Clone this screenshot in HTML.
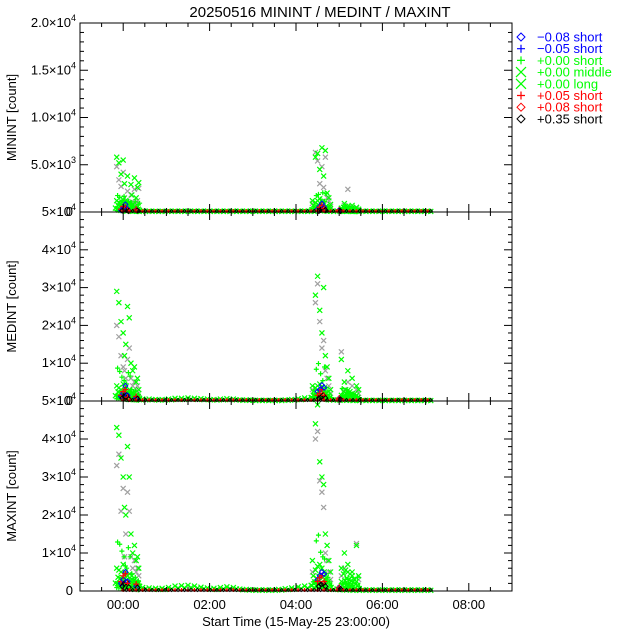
<!DOCTYPE html>
<html><head><meta charset="utf-8"><style>
body{margin:0;background:#fff}
svg{display:block;font-family:"Liberation Sans",sans-serif}
</style></head><body>
<svg id="c" width="640" height="640"></svg>
<script>
// ---- data ----
const panelNames=["MININT","MEDINT","MAXINT"];
const yMax=[20000,50000,50000];
const xTickLabels=["00:00","02:00","04:00","06:00","08:00"];
const xTickHours=[0,2,4,6,8];
const baseT=[0,0.15,0.3,0.45,0.6,0.75,0.9,1.05,1.2,1.35,1.5,1.65,1.8,1.95,2.1,2.25,2.4,2.55,2.7,2.85,3.0,3.15,3.3,3.45,3.6,3.75,3.9,4.05,4.2,4.35,4.5,4.65,4.8,4.95,5.1,5.25,5.4,5.55,5.7,5.85,6.0,6.15,6.3,6.45,6.6,6.75,6.9,7.05];
const baseMin=[150,120,100,100,100,90,90,100,100,100,100,100,100,100,100,100,100,100,100,100,100,100,100,100,100,100,100,100,100,100,200,150,100,120,100,100,100,100,100,100,100,100,100,100,100,100,100,100];
const baseMed=[900,700,600,500,500,400,400,500,700,700,800,700,600,500,400,500,600,500,300,300,200,200,200,200,200,300,400,600,800,900,1200,900,400,300,300,200,200,200,200,200,200,200,200,200,200,200,200,200];
const baseMax=[1500,1300,1100,900,800,700,700,900,1300,1400,1500,1300,1000,800,700,900,1100,900,500,400,300,300,300,300,400,600,800,1100,1300,1500,2000,1500,700,500,400,300,300,300,300,300,300,300,300,300,300,300,300,300];
// burst points: time (h) and values per panel
const burstT=[-0.15,-0.1,-0.05,0.0,0.03,0.06,0.1,0.14,0.18,0.22,0.26,0.3,0.33,0.36,0.2,4.38,4.45,4.5,4.55,4.6,4.64,4.68,4.72,4.76,4.8,5.05,5.12,5.2,5.3,5.4,5.45];
const grnMin=[5800,5200,4000,5500,3000,1200,3800,1000,2900,800,3600,1500,2600,3100,1800,1200,5800,6200,4500,6800,3800,6500,2000,1500,800,400,900,600,700,500,300];
const gryMin=[4800,3400,2700,4200,1500,900,2200,700,1800,600,2400,900,1200,2500,1100,900,6300,5400,3000,4800,2600,5800,1500,1200,600,300,700,2400,500,400,200];
const grnMed=[29000,26000,21000,18000,12000,15000,25000,22000,10000,8000,9000,5000,6000,3000,2000,4000,28000,33000,24000,18000,30000,12000,9000,6000,3000,11000,5000,8000,6000,4000,3000];
const gryMed=[20000,17000,12000,9000,8000,6000,11000,14000,6000,4000,5000,3000,4000,2000,1500,3000,26000,31000,21000,14000,16000,8000,6000,4000,2000,13000,3000,5000,4000,3000,2000];
const grnMax=[43000,41000,35000,30000,22000,20000,38000,30000,15000,10000,12000,8000,9000,6000,4000,8000,44000,49000,34000,30000,28000,15000,12000,8000,5000,6000,10000,7000,5000,12000,4000];
const gryMax=[33000,36000,21000,27000,9000,15000,26000,21000,9000,6000,8000,5000,6000,4000,3000,5000,40000,42000,29000,26000,22000,10000,8000,5000,3000,4000,6000,5000,4000,12500,3000];
const cloudT=[-0.15,-0.1,-0.05,0,0.05,0.1,0.15,0.2,0.25,0.3,0.35,4.4,4.45,4.5,4.55,4.6,4.65,4.7,4.75,5.05,5.1,5.15,5.2,5.25,5.3,5.35,5.4];
const cloudMin=[1200,1000,900,1300,800,700,900,600,500,400,300,700,1000,1200,1400,1100,900,600,400,300,500,600,400,300,400,300,200];
const cloudMed=[4000,3500,3000,4500,3000,2500,3000,2000,1800,1500,1200,2500,3500,4000,4500,3800,3000,2000,1500,1500,2500,3000,2800,2500,2000,1800,1500];
const cloudMax=[6000,5500,5000,7000,5000,4000,4500,3000,2800,2500,2000,4000,5500,6500,7000,6000,5000,3500,2500,2500,4500,5500,5000,4500,4000,3000,2500];
const redT=[-0.05,0.0,0.05,0.1,0.3,4.5,4.55,4.6,4.65,5.0];
const redMin=[300,600,500,200,300,200,500,700,400,200];
const redMed=[1500,2500,3000,1000,1200,1500,2000,3000,1500,800];
const redMax=[2500,4000,4500,2000,1800,2500,3500,4000,2500,1000];
const bluMin=[200,400,800,300,200,300,600,900,500,200];
const bluMed=[1200,2000,4000,1500,800,2500,3000,4200,3500,600];
const bluMax=[2000,3000,5000,2500,1200,3000,4000,5000,4500,900];
const legendLabels=["\u22120.08 short","\u22120.05 short","+0.00 short","+0.00 middle","+0.00 long","+0.05 short","+0.08 short","+0.35 short"];
const legendColors=["#0000ff","#0000ff","#00ff00","#00ff00","#00ff00","#ff0000","#ff0000","#000000"];
const legendSyms=["d","+","+","x","x","+","d","d"];
// ---- layout ----
const svg=document.getElementById('c');const NS="http://www.w3.org/2000/svg";
const X0=80,X1=512,tMin=-1,tMax=9;
const panels=[[23,212],[212,401],[401,591]];
function sx(t){return X0+(t-tMin)/(tMax-tMin)*(X1-X0);}
function mk(tag,a,p){const e=document.createElementNS(NS,tag);for(const k in a)e.setAttribute(k,a[k]);(p||svg).appendChild(e);return e;}
function sym(g,type,x,y,col,s){
 if(type==="x"){mk('path',{d:`M${x-s} ${y-s}L${x+s} ${y+s}M${x-s} ${y+s}L${x+s} ${y-s}`,stroke:col,'stroke-width':1.2,fill:'none'},g);}
 else if(type==="+"){mk('path',{d:`M${x-s} ${y}L${x+s} ${y}M${x} ${y-s}L${x} ${y+s}`,stroke:col,'stroke-width':1.2,fill:'none'},g);}
 else{mk('path',{d:`M${x} ${y-s}L${x+s} ${y}L${x} ${y+s}L${x-s} ${y}Z`,stroke:col,'stroke-width':1,fill:'none'},g);}
}
const t=mk('text',{x:320,y:17,'text-anchor':'middle','font-size':15});t.textContent="20250516 MININT / MEDINT / MAXINT";

const grnS=[grnMin,grnMed,grnMax],gryS=[gryMin,gryMed,gryMax],redS=[redMin,redMed,redMax],bluS=[bluMin,bluMed,bluMax],baseS=[baseMin,baseMed,baseMax],cloudS=[cloudMin,cloudMed,cloudMax];
panels.forEach((p,i)=>{
 const [top,bot]=p;const sy=v=>bot-v/yMax[i]*(bot-top);
 const g=mk('g',{});
 const dg=mk('g',{},g);
 baseT.forEach((tt,k)=>{sym(dg,"x",sx(tt),sy(baseS[i][k]),"#00ff00",2.5);sym(dg,"x",sx(tt+0.07),sy(baseS[i][k]*0.6),"#00ff00",2.5);});
 burstT.forEach((tt,k)=>{sym(dg,"x",sx(tt),sy(gryS[i][k]),"#a0a0a0",2.5);});
 burstT.forEach((tt,k)=>{sym(dg,"x",sx(tt),sy(grnS[i][k]),"#00ff00",2.5);sym(dg,"+",sx(tt+0.02),sy(grnS[i][k]*0.3),"#00ff00",2.5);});
 cloudT.forEach((tt,k)=>{const v=cloudS[i][k];sym(dg,"x",sx(tt),sy(v),"#00ff00",2.5);sym(dg,"x",sx(tt+0.03),sy(v*0.6),"#00ff00",2.5);sym(dg,"x",sx(tt-0.03),sy(v*0.35),"#00ff00",2.5);sym(dg,"+",sx(tt),sy(v*0.15),"#00ff00",2.5);});
 redT.forEach((tt,k)=>{sym(dg,"d",sx(tt),sy(bluS[i][k]),"#0000ff",2.5);sym(dg,"+",sx(tt),sy(redS[i][k]),"#ff0000",3);sym(dg,"d",sx(tt+0.03),sy(redS[i][k]*0.5),"#000000",2.5);});
 baseT.forEach((tt,k)=>{sym(dg,"+",sx(tt),sy(0)-1,"#ff0000",2);sym(dg,"d",sx(tt+0.07),sy(0)-1,"#000000",1.5);});
 mk('rect',{x:X0,y:top,width:X1-X0,height:bot-top,fill:'none',stroke:'#000'},g);
 const nMaj=i===0?4:5,step=yMax[i]/nMaj,minor=5;
 for(let k=0;k<=nMaj*minor;k++){const y=sy(k*step/minor);const L=k%minor===0?8:4;
  mk('line',{x1:X0,x2:X0+L,y1:y,y2:y,stroke:'#000'},g);mk('line',{x1:X1-L,x2:X1,y1:y,y2:y,stroke:'#000'},g);}
 for(let k=0;k<=nMaj;k++){const v=k*step;let lab;
  if(k===0)lab="0";else if(i===0)lab=(v>=10000?(v/1e4).toFixed(1)+"\u00d710<tspan dy='-6' font-size='9'>4</tspan>":(v/1e3).toFixed(1)+"\u00d710<tspan dy='-6' font-size='9'>3</tspan>");
  else lab=(v/1e4)+"\u00d710<tspan dy='-6' font-size='9'>4</tspan>";
  const tx=mk('text',{x:k===0?X0-7:X0-4,y:sy(v)+4,'text-anchor':'end','font-size':13,fill:'#000'},g);tx.innerHTML=lab;
  }
 for(let h=-1;h<=9;h+=0.5){const x=sx(h);const L=Number.isInteger(h/2)?8:4;
  mk('line',{x1:x,x2:x,y1:bot,y2:bot-L,stroke:'#000'},g);mk('line',{x1:x,x2:x,y1:top,y2:top+L,stroke:'#000'},g);}
 const yt=mk('text',{transform:`translate(16,${(top+bot)/2}) rotate(-90)`,'text-anchor':'middle','font-size':13},g);
 yt.textContent=panelNames[i]+" [count]";
});
xTickHours.forEach((h,k)=>{const tx=mk('text',{x:sx(h),y:609,'text-anchor':'middle','font-size':13});tx.textContent=xTickLabels[k];
 });
const xt=mk('text',{x:296,y:626,'text-anchor':'middle','font-size':13});xt.textContent="Start Time (15-May-25 23:00:00)";

const lg=mk('g',{});
legendLabels.forEach((l,k)=>{const y=37+k*11.7;sym(lg,legendSyms[k],521,y,legendColors[k],legendSyms[k]==="x"?5:4);
 const tx=mk('text',{x:537,y:y+4.5,'font-size':13,fill:legendColors[k]},lg);tx.textContent=l;
 });
</script>
</body></html>
